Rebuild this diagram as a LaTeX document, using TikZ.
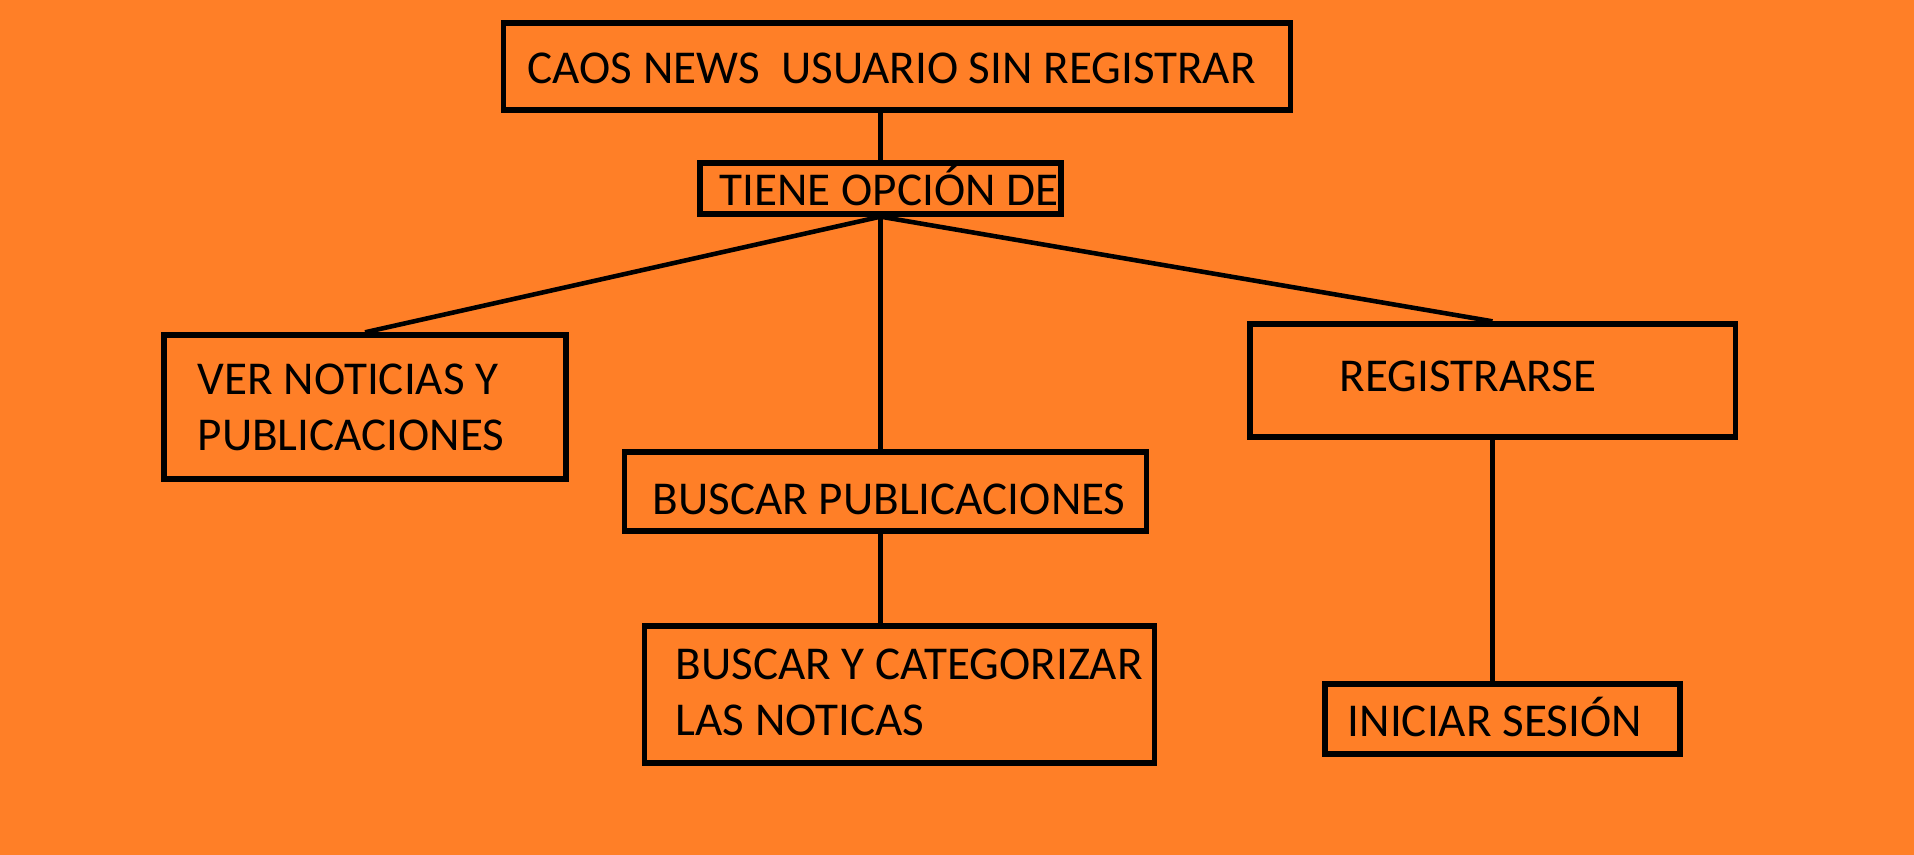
\documentclass[tikz,border=0pt]{standalone}
\usepackage{fontspec}
\setmainfont{Carlito}
\usetikzlibrary{positioning}
\definecolor{paintorange}{RGB}{255,127,39}

\begin{document}
\begin{tikzpicture}[x=0.01cm, y=-0.01cm,
  box/.style={draw, line width=1.5pt, inner sep=0pt},
  txt/.style={anchor=base west, inner sep=0pt, align=left, font=\fontsize{13.4}{15.9}\selectfont},
  link/.style={line width=1.3pt}
]
\useasboundingbox (0,0) rectangle (1914,854);
\fill[paintorange] (-10,-10) rectangle (1924,864);

% boxes
\node[box, minimum width=7.86cm, minimum height=0.87cm] (top) at (897,66.5) {};
\node[box, minimum width=3.61cm, minimum height=0.51cm] (tiene) at (880.5,188.5) {};
\node[box, minimum width=4.02cm, minimum height=1.44cm] (ver) at (365,407) {};
\node[box, minimum width=5.21cm, minimum height=0.79cm] (bpub) at (885.5,491.5) {};
\node[box, minimum width=5.09cm, minimum height=1.37cm] (bcat) at (899.5,694.5) {};
\node[box, minimum width=4.85cm, minimum height=1.13cm] (reg) at (1492.5,380.5) {};
\node[box, minimum width=3.55cm, minimum height=0.70cm] (ini) at (1502.5,719) {};

% texts (base = last line)
\node[txt] (toptext) at (527,83) {CAOS NEWS\ \ USUARIO SIN REGISTRAR};
\node[txt] (tienetext) at (719,205) {TIENE OPCIÓN DE};
\node[txt] (vertext) at (197,450) {VER NOTICIAS Y\\PUBLICACIONES};
\node[txt] (bpubtext) at (652,514) {BUSCAR PUBLICACIONES};
\node[txt] (bcattext) at (675,735) {BUSCAR Y CATEGORIZAR\\LAS NOTICAS};
\node[txt] (regtext) at (1339,391) {REGISTRARSE};
\node[txt] (initext) at (1347,736) {INICIAR SESIÓN};

% connectors
\draw[link] (top.south -| tiene.north) -- (tiene.north);
\draw[link] (tiene.south) -- (ver.north);
\draw[link] (tiene.south) -- (bpub.north -| tiene.south);
\draw[link] (tiene.south) -- (reg.north);
\draw[link] (bpub.south -| tiene.south) -- (bcat.north -| tiene.south);
\draw[link] (reg.south) -- (ini.north -| reg.south);
\end{tikzpicture}
\end{document}
